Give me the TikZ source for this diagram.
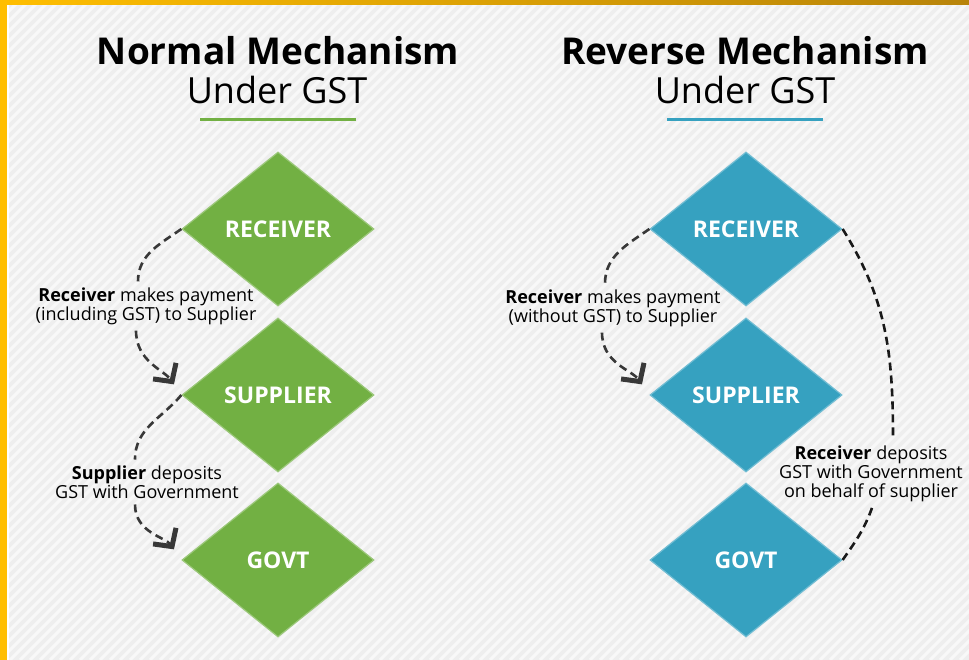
\documentclass[tikz,border=0pt]{standalone}
\usepackage{fontspec}
\setmainfont{Open Sans}
\usepackage{tikz}
\usetikzlibrary{shapes.geometric,arrows.meta}

\definecolor{gstgreen}{RGB}{114,176,67}
\definecolor{gstblue}{RGB}{54,161,192}
\definecolor{bgpaper}{RGB}{238,238,238}
\definecolor{frameamber}{RGB}{255,190,0}
\definecolor{framegold}{RGB}{184,132,10}
\definecolor{dashgray}{RGB}{56,56,56}

\tikzset{
    stage/.style={diamond, minimum width=192pt, minimum height=154pt, inner sep=0pt,
        line width=1.2pt, font=\fontsize{23}{26}\selectfont\bfseries, text=white},
    note/.style={font=\fontsize{18}{18.7}\selectfont, align=center, inner sep=6pt},
    flow/.style={draw=dashgray, line width=2.6pt, dash pattern=on 8pt off 5pt},
    barb/.style={-{Straight Barb[length=13pt,width=28pt,line width=5pt]}},
}

\begin{document}
\begin{tikzpicture}[x=1pt, y=1pt]
\useasboundingbox (0,0) rectangle (969,660);

% Striped paper background with amber frame
\fill[bgpaper] (0,0) rectangle (969,660);
\begin{scope}
    \clip (0,0) rectangle (969,660);
    \foreach \k in {-660,-650,...,970} {
        \draw[white, line width=3pt, opacity=0.6] (\k,0) -- ++(660,660);
    }
\end{scope}
\fill[frameamber] (0,0) rectangle (7,660);
\fill[white] (7,0) rectangle (8.5,655);
\shade[left color=frameamber, right color=framegold] (0,655) rectangle (969,660);

% LEFT PANEL: Normal mechanism
\begin{scope}[shift={(0,0)}]
    % Title
    \node[font=\fontsize{37}{40}\selectfont\bfseries, anchor=base] (ntitle) at (278,595) {Normal Mechanism};
    \node[font=\fontsize{36}{40}\selectfont, anchor=base] (nsub) at (277,556) {Under GST};
    \draw[gstgreen, line width=3pt] (200,540) -- (356,540);

    % Diamonds
    \node[stage, fill=gstgreen, draw=gstgreen!70!white] (nrec) at (278,431) {RECEIVER};
    \node[stage, fill=gstgreen, draw=gstgreen!70!white] (nsup) at (278,265) {SUPPLIER};
    \node[stage, fill=gstgreen, draw=gstgreen!70!white] (ngov) at (278,100) {GOVT};

    % Flow notes
    \node[note] (npay) at (146,354) {\textbf{Receiver} makes payment\\(including GST) to Supplier};
    \node[note] (ndep) at (147,178) {\textbf{Supplier} deposits\\GST with Government};

    % Dashed flows
    \draw[flow] (nrec.west) to[out=215, in=90] ([xshift=-8pt]npay.north);
    \draw[flow, barb, shorten >=13pt] ([xshift=-10pt]npay.south) to[out=270, in=125] (nsup.west);
    \draw[flow] (nsup.west) to[out=230, in=90] ([xshift=-12pt]ndep.north);
    \draw[flow, barb, shorten >=13pt] ([xshift=-12pt]ndep.south) to[out=270, in=125] (ngov.west);
\end{scope}

% RIGHT PANEL: Reverse mechanism
\begin{scope}[shift={(0,0)}]
    % Title
    \node[font=\fontsize{37}{40}\selectfont\bfseries, anchor=base] (rtitle) at (745,595) {Reverse Mechanism};
    \node[font=\fontsize{36}{40}\selectfont, anchor=base] (rsub) at (745,556) {Under GST};
    \draw[gstblue, line width=3pt] (667,540) -- (823,540);

    % Diamonds
    \node[stage, fill=gstblue, draw=gstblue!70!white] (rrec) at (746,431) {RECEIVER};
    \node[stage, fill=gstblue, draw=gstblue!70!white] (rsup) at (746,265) {SUPPLIER};
    \node[stage, fill=gstblue, draw=gstblue!70!white] (rgov) at (746,100) {GOVT};

    % Flow notes
    \node[note] (rpay) at (613,352) {\textbf{Receiver} makes payment\\(without GST) to Supplier};
    \node[note] (rdep) at (871,186) {\textbf{Receiver} deposits\\GST with Government\\on behalf of supplier};

    % Dashed flows
    \draw[flow] (rrec.west) to[out=215, in=90] ([xshift=-8pt]rpay.north);
    \draw[flow, barb, shorten >=13pt] ([xshift=-11pt]rpay.south) to[out=270, in=125] (rsup.west);
    \draw[flow, draw=black!90] (rrec.east) to[out=-58, in=90] ([xshift=22pt]rdep.north);
    \draw[flow, draw=black!90] ([xshift=1pt]rdep.south) to[out=250, in=55] (rgov.east);
\end{scope}

\end{tikzpicture}
\end{document}
